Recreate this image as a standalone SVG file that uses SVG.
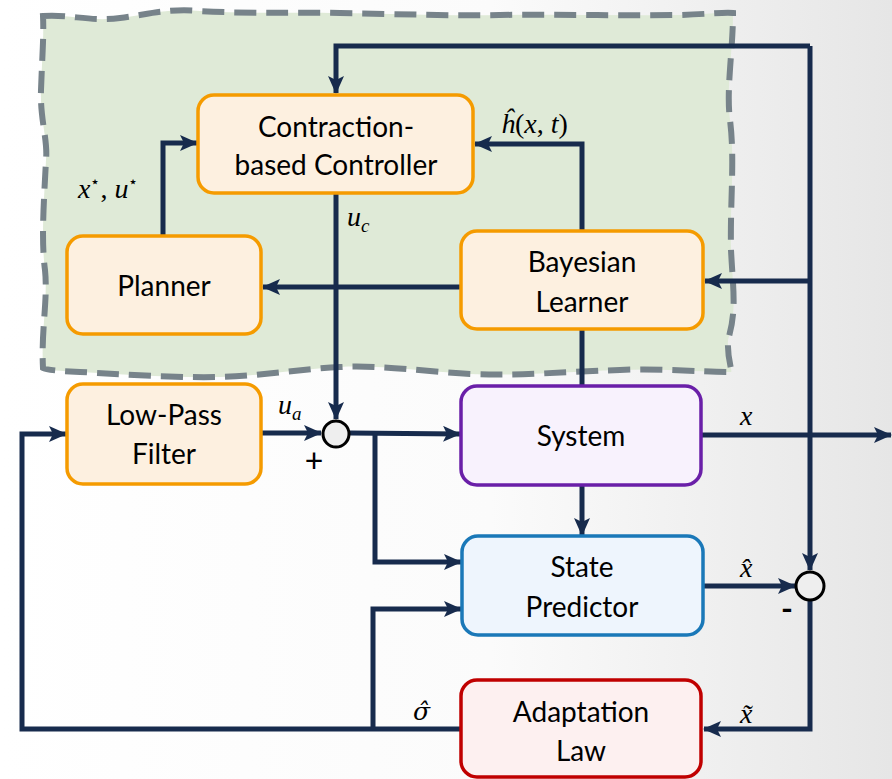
<svg xmlns="http://www.w3.org/2000/svg" width="892" height="779" viewBox="0 0 892 779">
<defs>
<linearGradient id="bg" x1="0" y1="0" x2="1" y2="0">
<stop offset="0" stop-color="#ffffff"/>
<stop offset="0.55" stop-color="#fbfbfb"/>
<stop offset="1" stop-color="#e6e6e6"/>
</linearGradient>
<marker id="arr" markerUnits="userSpaceOnUse" markerWidth="18" markerHeight="16" refX="17" refY="8" orient="auto">
<path d="M0,0 L18,8 L0,16 L4,8 Z" fill="#172b4d"/>
</marker>
<style>
.box{stroke-width:3.5}
.orange{fill:#fdf0e0;stroke:#f59b00}
.sys{fill:#f8f2fd;stroke:#6a1fa8}
.pred{fill:#eef5fd;stroke:#1a78b8}
.adapt{fill:#fdf0f0;stroke:#c00000}
.lbl{font-family:Lato,"Open Sans",sans-serif;font-size:28px;fill:#000;text-anchor:middle}
.math{font-family:"Liberation Serif","DejaVu Serif",serif;font-style:italic;font-size:28px;fill:#000}
.up{font-style:normal}
.ln{fill:none;stroke:#172b4d;stroke-width:5}
.ar{marker-end:url(#arr)}
.sum{fill:#eeeeee;stroke:#000;stroke-width:3}
</style>
</defs>
<rect width="892" height="779" fill="url(#bg)"/>
<path d="M43,16 C70,14 90,22 120,18 C150,14 170,8 200,11 C250,14 290,12 340,13 C400,14 450,16 500,15 C560,14 620,16 680,15 C710,14 725,12 733,13 C733,50 726,90 730,120 C735,160 730,200 731,250 C733,290 737,310 728,340 C727,360 733,372 731,372 C700,372 660,368 620,370 C560,372 520,376 470,374 C420,371 380,365 340,367 C300,369 260,376 220,377 C170,378 120,374 80,372 C60,371 46,370 43,368 C41,330 48,300 45,270 C41,240 44,200 46,160 C48,140 40,120 41,90 C42,60 44,35 43,16 Z" fill="#dfead7" stroke="#77838a" stroke-width="6" stroke-dasharray="22,10"/>
<g id="connectors">
<path class="ln ar" d="M810,46 L336,46 L336,93"/>
<path class="ln ar" d="M810,46 L810,570"/>
<path class="ln ar" d="M810,281 L705,281"/>
<path class="ln ar" d="M336,194 L336,419"/>
<path class="ln ar" d="M163,236 L163,143 L197,143"/>
<path class="ln ar" d="M582,231 L582,144 L475,144"/>
<path class="ln ar" d="M461,287 L263,287"/>
<path class="ln" d="M582,329 L582,386"/>
<path class="ln ar" d="M261,433 L321,433"/>
<path class="ln ar" d="M350,433 L460,434"/>
<path class="ln ar" d="M375,433 L375,562 L461,562"/>
<path class="ln ar" d="M582,486 L582,535"/>
<path class="ln ar" d="M702,435 L891,435"/>
<path class="ln ar" d="M704,586 L795,586"/>
<path class="ln ar" d="M810,601 L810,729 L704,729"/>
<path class="ln ar" d="M461,729 L22,729 L22,434 L66,434"/>
<path class="ln ar" d="M373,729 L373,609 L461,609"/>
</g>
<g id="sum1"><circle class="sum" cx="336" cy="434" r="13"/><text x="314" y="472" font-family="Lato,sans-serif" font-size="32" text-anchor="middle">+</text></g>
<g id="sum2"><circle class="sum" cx="810" cy="586" r="14" fill="#ffffff"/><text x="787" y="620" font-family="Lato,sans-serif" font-size="32" font-weight="bold" text-anchor="middle">-</text></g>
<g id="controller"><rect class="box orange" x="198" y="95" width="275" height="98" rx="16"/><text class="lbl" x="336" y="137">Contraction-</text><text class="lbl" x="336" y="175">based Controller</text></g>
<g id="planner"><rect class="box orange" x="67" y="236" width="194" height="98" rx="16"/><text class="lbl" x="164" y="296">Planner</text></g>
<g id="learner"><rect class="box orange" x="461" y="231" width="242" height="98" rx="16"/><text class="lbl" x="582" y="272">Bayesian</text><text class="lbl" x="582" y="312">Learner</text></g>
<g id="lpf"><rect class="box orange" x="67" y="384" width="194" height="100" rx="16"/><text class="lbl" x="164" y="425">Low-Pass</text><text class="lbl" x="164" y="464">Filter</text></g>
<g id="system"><rect class="box sys" x="461" y="386" width="240" height="99" rx="16"/><text class="lbl" x="581" y="446">System</text></g>
<g id="predictor"><rect class="box pred" x="462" y="536" width="241" height="99" rx="16"/><text class="lbl" x="582" y="577">State</text><text class="lbl" x="582" y="617">Predictor</text></g>
<g id="adaptation"><rect class="box adapt" x="461" y="680" width="240" height="97" rx="16"/><text class="lbl" x="581" y="722">Adaptation</text><text class="lbl" x="581" y="761">Law</text></g>
<g id="labels">
<text class="math" x="78" y="198">x<tspan font-size="16" dy="-11" class="up">⋆</tspan><tspan dy="11" class="up">, </tspan>u<tspan font-size="16" dy="-11" class="up">⋆</tspan></text>
<text class="math" x="347" y="226">u<tspan font-size="19" dy="6">c</tspan></text>
<text class="math" x="501" y="133">ĥ<tspan class="up">(</tspan>x<tspan class="up">, </tspan>t<tspan class="up">)</tspan></text>
<text class="math" x="278" y="414">u<tspan font-size="19" dy="6">a</tspan></text>
<text class="math" x="740" y="425">x</text>
<text class="math" x="740" y="577">x̂</text>
<text class="math" x="740" y="723">x̃</text>
<text class="math" x="413" y="720" style="font-family:'DejaVu Serif',serif;font-size:25px">σ̂</text>
</g>
</svg>
